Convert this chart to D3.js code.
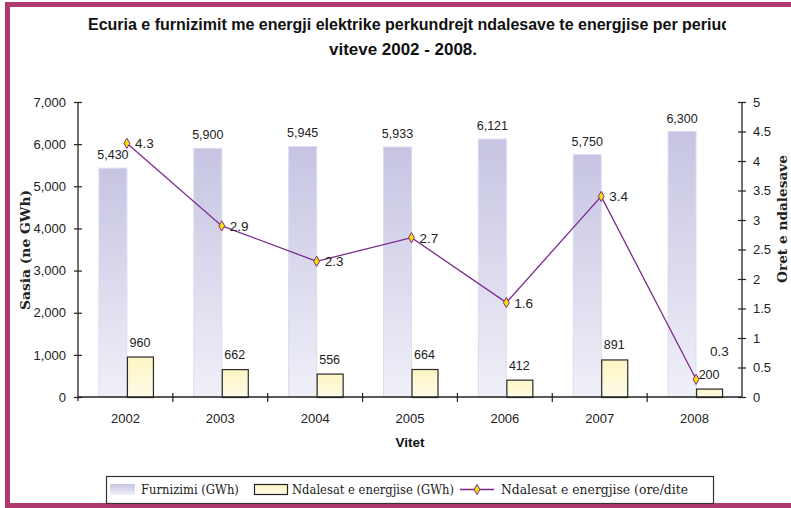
<!DOCTYPE html>
<html><head><meta charset="utf-8">
<script src="https://cdn.jsdelivr.net/npm/d3@7"></script>
<style>html,body{margin:0;padding:0;background:#fff;overflow:hidden}</style>
</head><body>
<svg id="c" width="791" height="508"></svg>
<script>
const years = ["2002","2003","2004","2005","2006","2007","2008"];
const supply = [5430,5900,5945,5933,6121,5750,6300];
const stops = [960,662,556,664,412,891,200];
const hours = [4.3,2.9,2.3,2.7,1.6,3.4,0.3];
const leftTicks = [0,1000,2000,3000,4000,5000,6000,7000];
const rightTicks = [0,0.5,1,1.5,2,2.5,3,3.5,4,4.5,5];
const titleLines = ["Ecuria e furnizimit me energji elektrike perkundrejt ndalesave te energjise per periud","viteve 2002 - 2008."];
const legendLabels = ["Furnizimi (GWh)","Ndalesat e energjise (GWh)","Ndalesat e energjise (ore/dite"];

const svg = d3.select("#c");
const defs = svg.append("defs");
const g1 = defs.append("linearGradient").attr("id","gs").attr("x1",0).attr("y1",0).attr("x2",0).attr("y2",1);
g1.append("stop").attr("offset","0%").attr("stop-color","#c6c4e2");
g1.append("stop").attr("offset","100%").attr("stop-color","#f0f0f9");
const g2 = defs.append("linearGradient").attr("id","gy").attr("x1",0).attr("y1",0).attr("x2",0).attr("y2",1);
g2.append("stop").attr("offset","0%").attr("stop-color","#fcf5c2");
g2.append("stop").attr("offset","100%").attr("stop-color","#fffbe8");
defs.append("clipPath").attr("id","tclip").append("rect").attr("x",0).attr("y",0).attr("width",726).attr("height",60);
defs.append("clipPath").attr("id","lclip").append("rect").attr("x",106).attr("y",470).attr("width",607).attr("height",40);

// frame
const fc = "#b03a70";
svg.append("rect").attr("x",5).attr("y",2).attr("width",786).attr("height",5).attr("fill",fc);
svg.append("rect").attr("x",5).attr("y",2).attr("width",5).attr("height",506).attr("fill",fc);
svg.append("rect").attr("x",5).attr("y",503).attr("width",786).attr("height",5).attr("fill",fc);

// title
const tfont = "'Liberation Sans Narrow','Liberation Sans',Arial,sans-serif";
svg.append("text").attr("clip-path","url(#tclip)").attr("x",88).attr("y",30)
  .attr("font-family",tfont).attr("font-weight","bold")
  .attr("font-size",16).attr("fill","#111").attr("textLength",643).attr("lengthAdjust","spacingAndGlyphs")
  .text(titleLines[0]);
svg.append("text").attr("x",403).attr("y",55).attr("text-anchor","middle")
  .attr("font-family",tfont).attr("font-weight","bold")
  .attr("font-size",16).attr("fill","#111").attr("textLength",148).attr("lengthAdjust","spacingAndGlyphs")
  .text(titleLines[1]);

const x = d3.scaleBand().domain(years).range([78,742]).paddingInner(0).paddingOuter(0);
const yL = d3.scaleLinear().domain([0,7000]).range([397,102]);
const yR = d3.scaleLinear().domain([0,5]).range([397,102]);
const cx = d => x(d) + x.bandwidth()/2 + 1.5;
const bwS = 28, bwY = 26;
const sans = "'Liberation Sans',Arial,sans-serif";

// supply bars
svg.append("g").selectAll("rect").data(years).join("rect")
  .attr("x",(d)=>cx(d)-bwS).attr("width",bwS)
  .attr("y",(d,i)=>yL(supply[i])).attr("height",(d,i)=>yL(0)-yL(supply[i]))
  .attr("fill","url(#gs)").attr("stroke","#dcdcf0").attr("stroke-width",1);
// stop bars
svg.append("g").selectAll("rect").data(years).join("rect")
  .attr("x",(d)=>cx(d)+0.5).attr("width",bwY)
  .attr("y",(d,i)=>yL(stops[i])+0.5).attr("height",(d,i)=>yL(0)-yL(stops[i]))
  .attr("fill","url(#gy)").attr("stroke","#2a2a2a").attr("stroke-width",1.2);

// axes
const axL = svg.append("g").attr("transform","translate(78,0)")
  .call(d3.axisLeft(yL).tickValues(leftTicks).tickFormat(d3.format(",")).tickSize(4).tickPadding(8));
const axR = svg.append("g").attr("transform","translate(742,0)")
  .call(d3.axisRight(yR).tickValues(rightTicks).tickFormat(d=>String(d)).tickSize(4).tickPadding(7));
const axB = svg.append("g").attr("transform","translate(0,397)")
  .call(d3.axisBottom(x).tickSize(0).tickPadding(17));
[axL,axR,axB].forEach(a=>{
  a.select(".domain").attr("stroke","#222").attr("stroke-width",1.3);
  a.selectAll("text").attr("font-family",sans).attr("font-size",13).attr("fill","#222");
});
axL.select(".domain").attr("d","M0,102V401");
axR.select(".domain").attr("d","M0,102V397");
axB.select(".domain").attr("d","M78,0H742");
axL.selectAll(".tick line").attr("x1",-4).attr("x2",4).attr("stroke","#222").attr("stroke-width",1.2);
axR.selectAll(".tick line").attr("x1",-4).attr("x2",4).attr("stroke","#222").attr("stroke-width",1.2);
// x boundary ticks
svg.append("g").selectAll("line").data(years.slice(1)).join("line")
  .attr("x1",d=>x(d)).attr("x2",d=>x(d)).attr("y1",393).attr("y2",402)
  .attr("stroke","#222").attr("stroke-width",1.2);

// bar value labels
svg.append("g").selectAll("text").data(years).join("text")
  .attr("x",d=>cx(d)-bwS/2).attr("y",(d,i)=>yL(supply[i])-9).attr("text-anchor","middle")
  .attr("font-family",sans).attr("font-size",12.5).attr("fill","#222")
  .text((d,i)=>d3.format(",")(supply[i]));
svg.append("g").selectAll("text").data(years).join("text")
  .attr("x",d=>cx(d)+bwY/2).attr("y",(d,i)=>yL(stops[i])-10).attr("text-anchor","middle")
  .attr("font-family",sans).attr("font-size",12.5).attr("fill","#222")
  .text((d,i)=>stops[i]);

// line
const line = d3.line().x((d,i)=>cx(years[i])).y(d=>yR(d));
svg.append("path").datum(hours).attr("d",line).attr("fill","none").attr("stroke","#7d2a8e").attr("stroke-width",1.3);
const sym = d3.symbol().type(d3.symbolDiamond).size(30);
svg.append("g").selectAll("path").data(hours).join("path")
  .attr("transform",(d,i)=>`translate(${cx(years[i])},${yR(d)})`)
  .attr("d",sym).attr("fill","#f4e000").attr("stroke","#7d2a8e").attr("stroke-width",1);
svg.append("g").selectAll("text").data(hours).join("text")
  .attr("x",(d,i)=>cx(years[i]) + (i===hours.length-1 ? 14 : 8))
  .attr("y",(d,i)=>yR(d) + (i===hours.length-1 ? -23 : 5))
  .attr("font-family",sans).attr("font-size",13.5).attr("fill","#222")
  .text(d=>d.toFixed(1));

// axis titles
svg.append("text").attr("transform","translate(30,250) rotate(-90)").attr("text-anchor","middle")
  .attr("font-family","'DejaVu Serif',serif").attr("font-weight","bold").attr("font-size",12.5)
  .attr("fill","#222").attr("textLength",120).attr("lengthAdjust","spacingAndGlyphs").text("Sasia (ne GWh)");
svg.append("text").attr("transform","translate(787,219) rotate(-90)").attr("text-anchor","middle")
  .attr("font-family","'DejaVu Serif',serif").attr("font-weight","bold").attr("font-size",12.5)
  .attr("fill","#222").attr("textLength",128).attr("lengthAdjust","spacingAndGlyphs").text("Oret e ndalesave");
svg.append("text").attr("x",410).attr("y",447).attr("text-anchor","middle")
  .attr("font-family",sans).attr("font-weight","bold").attr("font-size",13.5).attr("fill","#111").text("Vitet");

// legend
const lg = svg.append("g");
lg.append("rect").attr("x",106.5).attr("y",476.5).attr("width",607).attr("height",27)
  .attr("fill","#fff").attr("stroke","#333").attr("stroke-width",1.2);
const serif = "'DejaVu Serif',serif";
lg.append("rect").attr("x",110).attr("y",484).attr("width",25).attr("height",11).attr("fill","url(#gs)");
lg.append("rect").attr("x",254.5).attr("y",484.5).attr("width",33).attr("height",10).attr("fill","url(#gy)").attr("stroke","#222").attr("stroke-width",1.2);
lg.append("line").attr("x1",460).attr("x2",494).attr("y1",489.5).attr("y2",489.5).attr("stroke","#7d2a8e").attr("stroke-width",1.3);
lg.append("path").attr("transform","translate(477,489.5)").attr("d",sym).attr("fill","#f4e000").attr("stroke","#7d2a8e");
const lx = [141,292,501];
const lt = lg.append("g").attr("clip-path","url(#lclip)").selectAll("text").data(legendLabels).join("text")
  .attr("x",(d,i)=>lx[i]).attr("y",494).attr("font-family",serif).attr("font-size",12.5).attr("fill","#222")
  .text(d=>d);
// uniform horizontal compression so the middle label spans ~162px
const nat = lt.nodes().map(n=>n.getComputedTextLength());
const k = 162/nat[1];
lt.attr("textLength",(d,i)=>nat[i]*k*(i===2?1.07:1)).attr("lengthAdjust","spacingAndGlyphs");
</script>
</body></html>
